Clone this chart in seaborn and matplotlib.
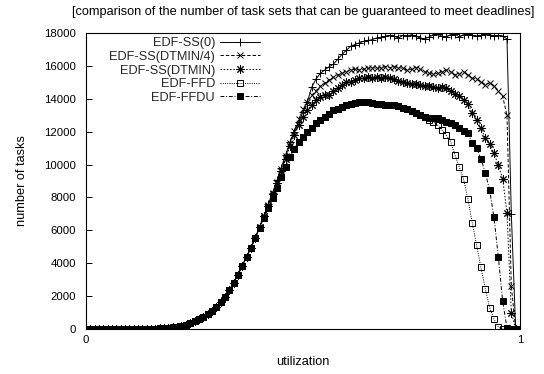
import numpy as np
import matplotlib
matplotlib.use("Agg")
import matplotlib.pyplot as plt
import seaborn as sns

# utilization sampled in steps of 0.01
utilization = np.round(np.arange(100) * 0.01, 2)

# shared part of all curves, utilization 0.00 - 0.39
rise = [
    0, 0, 0, 0, 0, 0, 0, 0, 0, 0,
    0, 0, 2, 5, 10, 15, 25, 40, 55, 80,
    110, 150, 200, 270, 350, 460, 580, 730, 900, 1100,
    1350, 1630, 1950, 2350, 2800, 3300, 3850, 4400, 4950, 5550,
]

# per-algorithm counts, utilization 0.40 - 0.99
ss0_tail = [
    6200, 6900, 7600, 8300, 9050, 9800, 10600, 11350, 12000, 12600,
    13200, 13800, 14700, 15200, 15550, 15750, 15950, 16100, 16400, 16700,
    16950, 17200, 17300, 17400, 17500, 17550, 17600, 17700, 17750, 17800,
    17850, 17800, 17700, 17850, 17800, 17900, 17800, 17700, 17650, 17750,
    17900, 17950, 17800, 17750, 17900, 17950, 17750, 17900, 17950, 17850,
    17800, 17850, 17950, 17900, 17800, 17850, 17800, 17650, 7000, 0,
]
dtmin4_tail = [
    6200, 6850, 7550, 8250, 8950, 9700, 10500, 11300, 12050, 12750,
    13350, 13800, 14200, 14500, 14750, 14950, 15150, 15300, 15450, 15550,
    15650, 15750, 15800, 15750, 15800, 15850, 15900, 15850, 15900, 15950,
    15900, 15950, 15900, 15850, 15750, 15800, 15900, 15800, 15650, 15550,
    15500, 15550, 15650, 15750, 15650, 15450, 15500, 15650, 15450, 15250,
    15200, 15050, 14850, 14950, 14800, 14450, 14150, 13000, 2600, 0,
]
dtmin_tail = [
    6200, 6850, 7500, 8200, 8900, 9600, 10350, 11100, 11800, 12400,
    12900, 13300, 13650, 13900, 14100, 14200, 14250, 14450, 14650, 14850,
    15000, 15050, 15150, 15250, 15250, 15300, 15250, 15300, 15250, 15300,
    15250, 15200, 15100, 15000, 14950, 14900, 14900, 14850, 14800, 14750,
    14700, 14650, 14700, 14650, 14450, 14300, 14150, 13950, 13700, 13150,
    12700, 12200, 11600, 11250, 10700, 9950, 9150, 7050, 1000, 0,
]
ffd_tail = [
    6150, 6750, 7350, 7950, 8600, 9250, 9850, 10450, 10950, 11400,
    11700, 12000, 12250, 12500, 12700, 12900, 13050, 13300, 13400, 13500,
    13600, 13700, 13750, 13800, 13800, 13800, 13750, 13700, 13700, 13650,
    13600, 13600, 13550, 13450, 13350, 13250, 13150, 13000, 12900, 12700,
    12600, 12400, 12100, 11800, 11400, 10600, 9850, 9100, 7900, 6450,
    5100, 3750, 2450, 1300, 600, 120, 0, 0, 0, 0,
]
ffdu_tail = [
    6150, 6750, 7350, 7950, 8600, 9250, 9850, 10450, 10950, 11400,
    11700, 12000, 12250, 12500, 12700, 12900, 13050, 13300, 13400, 13500,
    13600, 13700, 13750, 13800, 13800, 13800, 13750, 13700, 13700, 13650,
    13600, 13600, 13550, 13450, 13350, 13250, 13150, 13000, 12900, 12850,
    12850, 12850, 12700, 12600, 12550, 12400, 12200, 12050, 11900, 11300,
    11000, 10350, 9500, 8450, 6800, 4400, 1700, 50, 0, 0,
]

labels = ["EDF-SS(0)", "EDF-SS(DTMIN/4)", "EDF-SS(DTMIN)", "EDF-FFD", "EDF-FFDU"]
y_ticks = [0, 2000, 4000, 6000, 8000, 10000, 12000, 14000, 16000, 18000]
x_ticks = [0, 1]

sns.set_theme(style="ticks")
plt.rcParams["font.family"] = ["Liberation Sans", "DejaVu Sans"]
TICK_FS = 8.2
TEXT_FS = 9.2

fig = plt.figure(figsize=(5.44, 3.74), dpi=100)
ax = fig.add_axes([86 / 544, 1 - 329 / 374, 434 / 544, 296 / 374])

styles = [
    dict(marker="+", ls="-", ms=6, mew=0.7),
    dict(marker="x", ls=(0, (3.5, 2)), ms=5, mew=0.7),
    dict(marker=(8, 2, 0), ls=(0, (1.5, 1.8)), ms=6, mew=0.7),
    dict(marker="s", mfc="none", ls=(0, (1, 1.3)), ms=4.6, mew=0.7),
    dict(marker="s", mfc="black", ls=(0, (4, 1.8, 1, 1.8)), ms=5.0, mew=0.7),
]
curves = [rise + ss0_tail, rise + dtmin4_tail, rise + dtmin_tail,
          rise + ffd_tail, rise + ffdu_tail]

for name, vals, kw in zip(labels, curves, styles):
    sns.lineplot(x=utilization, y=vals, ax=ax, color="black", lw=0.7,
                 mec="black", label=name, **kw)

ax.set_xlim(0, 1)
ax.set_ylim(0, 18000)
ax.set_xticks(x_ticks)
ax.set_xticklabels([str(t) for t in x_ticks])
ax.set_yticks(y_ticks)
ax.set_yticklabels([str(t) for t in y_ticks])
ax.tick_params(axis="both", direction="in", length=4.5, width=0.7,
               colors="black", labelsize=TICK_FS, top=False, right=False)
ax.tick_params(axis="y", pad=7)
ax.tick_params(axis="x", pad=4)
for sp in ax.spines.values():
    sp.set_visible(True)
    sp.set_color("black")
    sp.set_linewidth(0.8)

ax.set_xlabel("utilization", fontsize=TEXT_FS, color="black")
ax.set_ylabel("number of tasks", fontsize=TEXT_FS, color="black")
ax.xaxis.set_label_coords(0.5, -0.09)
ax.yaxis.set_label_coords(-0.134, 0.5)
ax.set_title("[comparison of the number of task sets that can be guaranteed to meet deadlines]",
             fontsize=TEXT_FS, color="black", pad=13)

ax.legend(loc="upper right", bbox_to_anchor=(0.41, 1.0), frameon=False,
          markerfirst=False, handlelength=3.1, handletextpad=0.4,
          labelspacing=0.13, borderaxespad=0.0, borderpad=0.33, fontsize=TEXT_FS)

fig.savefig("out.png", dpi=100)
